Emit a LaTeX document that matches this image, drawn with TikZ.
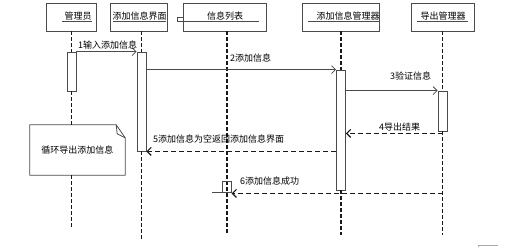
\documentclass[tikz,border=0pt]{standalone}
\usepackage{fontspec}
\setmainfont{Noto Sans CJK SC}
\usetikzlibrary{arrows.meta,positioning,calc}
\definecolor{lineclr}{RGB}{75,75,75}
\definecolor{dashclr}{RGB}{25,25,25}
\definecolor{faintclr}{RGB}{170,170,170}
\tikzset{
  % Kopfkaesten der Objekte
  objbox/.style   = {draw=lineclr, line width=0.8pt, minimum height=28pt, inner sep=0pt},
  objname/.style  = {font=\fontsize{9}{9}\selectfont, inner sep=0pt},
  objline/.style  = {draw=lineclr, line width=0.6pt},
  % Lebenslinien und Aktivierungen
  lifeline/.style = {draw=dashclr, line width=1.1pt, dash pattern=on 4pt off 2pt},
  actbar/.style   = {draw=lineclr, line width=0.8pt, minimum width=9pt, inner sep=0pt},
  % Nachrichten
  msg/.style      = {draw=lineclr, line width=0.8pt, -{Straight Barb[length=4pt,width=8pt]}},
  reply/.style    = {draw=dashclr, line width=1.1pt, dash pattern=on 5pt off 3pt,
                     -{Straight Barb[length=4pt,width=8pt]}},
  msglab/.style   = {font=\fontsize{9}{9}\selectfont, inner sep=0pt, anchor=west},
  % Notiz
  notebox/.style  = {minimum width=95pt, minimum height=50pt, inner sep=0pt,
                     font=\fontsize{9}{9}\selectfont},
  noteline/.style = {draw=lineclr, line width=0.8pt},
}
\begin{document}
\begin{tikzpicture}[x=1pt,y=-1pt]
  \useasboundingbox (0,0) rectangle (509,247);
  % Objekte
  \node[objbox, minimum width=50pt] (admin) at (71,17) {};
  \node[objbox, minimum width=57pt] (ui)    at (138.5,17) {};
  \node[objbox, minimum width=83pt] (list)  at (224.5,17) {};
  \node[objbox, minimum width=77pt] (mgr)   at (340.5,17) {};
  \node[objbox, minimum width=63pt] (exp)   at (442.5,17) {};
  \node[objname] (adminT) at (78,16)    {管理员};
  \node[objname] (uiT)    at (139.5,16) {添加信息界面};
  \node[objname] (listT)  at (225,16)   {信息列表};
  \node[objname] (mgrT)   at (348,16)   {添加信息管理器};
  \node[objname] (expT)   at (443,16)   {导出管理器};
  \draw[objline] (62,21) -- (92,21);
  \draw[objline] (113,21) -- (166,21);
  \draw[objline] (183,21) -- (259,21);
  \draw[objline] (177,17) rectangle (183,21);
  \draw[objline] (308,21) -- (379,21);
  \draw[objline] (417,21) -- (468,21);

  % Aktivierungen
  \node[actbar, minimum height=39pt]  (barA)    at (71.5,71.5) {};
  \node[actbar, minimum height=99pt]  (barUI)   at (141.5,101.5) {};
  \node[actbar, minimum height=11pt, minimum width=8.5pt] (barList) at (227,186.5) {};
  \node[actbar, minimum height=120pt] (barMgr)  at (341,130) {};
  \node[actbar, minimum height=40pt]  (barExp)  at (442.5,111) {};

  % Notiz
  \node[notebox] (note) at (77.5,150) {};
  \draw[noteline, fill=white] (note.north west) -- ([xshift=-9pt]note.north east)
    -- ([yshift=-13pt]note.north east) -- (note.south east) -- (note.south west) -- cycle;
  \draw[noteline] ([xshift=-9pt]note.north east) -- ([xshift=-8pt,yshift=-9pt]note.north east)
    -- ([yshift=-13pt]note.north east);
  \node[notebox] (noteT) at (note.center) {循环导出添加信息};

  % Lebenslinien
  \coordinate (endA)    at (71.5,229);
  \coordinate (endUI)   at (141.5,240);
  \coordinate (endList) at (227,233);
  \coordinate (endMgr)  at (341,235);
  \coordinate (endExp)  at (442.5,235);
  \draw[lifeline] (barA.north |- admin.south) -- (barA.north);
  \draw[lifeline] (barA.south) -- (barA.south |- note.north);
  \draw[lifeline] (barA.south |- note.south) -- (endA);
  \draw[lifeline] (barUI.north |- ui.south) -- (barUI.north);
  \draw[lifeline] (barUI.south) -- (endUI);
  \draw[lifeline] (barList.north |- list.south) -- (endList);
  \draw[lifeline] (barMgr.north |- mgr.south) -- (barMgr.north);
  \draw[lifeline] (barMgr.south) -- (endMgr);
  \draw[lifeline] (barExp.north |- exp.south) -- (barExp.north);
  \draw[lifeline] (barExp.south) -- (endExp);
  \node[actbar, minimum height=11pt, minimum width=8.5pt] at (barList.center) {};
  \draw[objline, line width=0.8pt] ([xshift=-10pt]barList.south west) -- (barList.south west);

  % Nachrichten
  \draw[msg] (barA.north east) -- (barUI.north west);
  \node[msglab] (m1) at (78,45.5) {1输入添加信息};
  \draw[msg] (barUI.east |- barMgr.north) -- (barMgr.north west);
  \node[msglab] (m2) at (230,58) {2添加信息};
  \draw[msg] (barMgr.east |- barExp.north) -- (barExp.north west);
  \node[msglab] (m3) at (390,76.5) {3验证信息};
  \coordinate (r4) at ([yshift=-2pt]barExp.south);
  \draw[reply] (r4) -- (barMgr.east |- r4);
  \node[msglab] (m4) at (379,127) {4导出结果};
  \draw[reply] (barMgr.west |- barUI.south) -- (barUI.south east);
  \node[msglab] (m5) at (153,139.5) {5添加信息为空返回添加信息界面};
  \coordinate (r6) at ([yshift=-1pt]barList.south east);
  \draw[reply] (endExp |- r6) -- (r6);
  \node[msglab] (m6) at (240,181.5) {6添加信息成功};

  % Rest unten rechts
  \draw[faintclr, line width=0.8pt] (478,247) -- (478,245) -- (497.5,245);
\end{tikzpicture}
\end{document}
